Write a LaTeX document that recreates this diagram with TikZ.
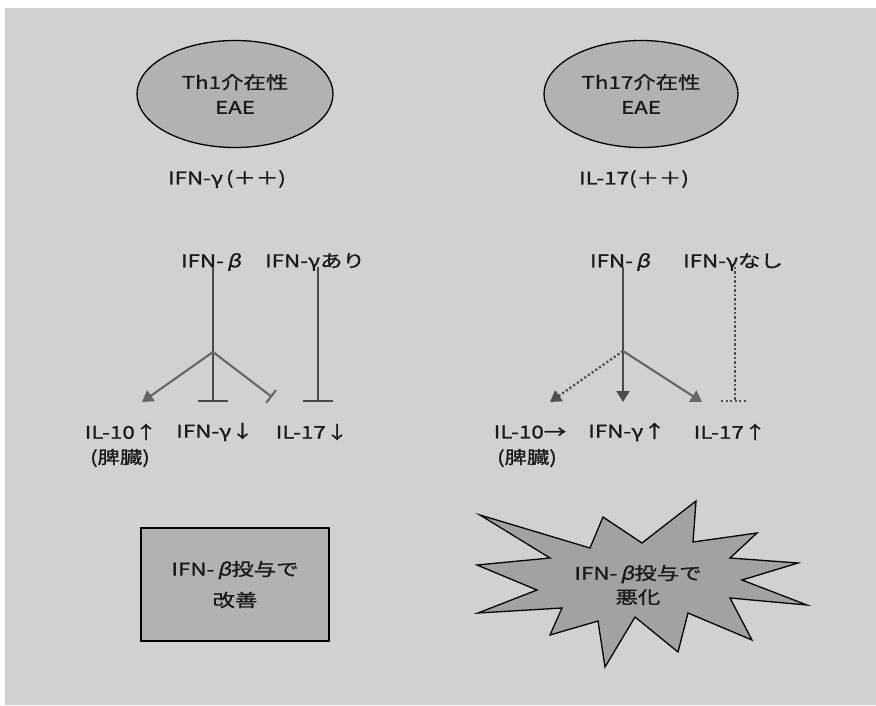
\documentclass[tikz,border=0pt]{standalone}
\usepackage{fontspec}
\setmainfont{Noto Sans CJK JP}[FakeStretch=1.28, FakeBold=1.2]
\newfontfamily\grk{Noto Sans CJK JP}[FakeStretch=1.28, FakeBold=1.2, FakeSlant=0.22]
\newcommand{\bet}{{\grk β}}
\usetikzlibrary{arrows.meta,shapes.geometric}

\definecolor{paper}{HTML}{D1D1D1}
\definecolor{shade}{HTML}{B2B2B2}
\definecolor{starfill}{HTML}{A2A2A2}
\definecolor{ink}{HTML}{1A1A1A}
\definecolor{darkline}{HTML}{4A4A4A}
\definecolor{midline}{HTML}{666666}
\definecolor{dotcol}{HTML}{505050}

\begin{document}
\begin{tikzpicture}[x=1pt,y=-1pt,
  lbl/.style={text=ink, font=\fontsize{17.5}{20}\selectfont, inner sep=2pt},
  shapeline/.style={draw=black, line width=1.3pt},
  act/.style={line width=2.1pt, -{Triangle[length=11pt,width=13pt]}},
  inhib/.style={line width=2.1pt, -{Bar[width=30pt]}},
  inhibshort/.style={line width=2.1pt, -{Bar[width=16pt]}},
  dotline/.style={line width=2.3pt, dash pattern=on 2.2pt off 2.3pt}]

% page and grey ground
\fill[white] (0,0) rectangle (876,705);
\fill[paper] (5,8) rectangle (876,705);
\useasboundingbox (0,0) rectangle (876,705);

% ---------- left panel: Th1 ----------
\node[shapeline, ellipse, fill=shade, minimum width=196pt, minimum height=107pt,
      inner sep=0pt, align=center, text=ink, font=\fontsize{17.5}{25}\selectfont]
  (th1) at (235,94) {Th1介在性\\EAE};
\node[lbl] (ifngpp) at (227,179) {IFN-γ\,(＋＋)};

\node[lbl] (bL) at (211,262) {IFN-\,\bet};
\node[lbl] (gL) at (315,262) {IFN-γあり};

\coordinate (jL)   at (213,352);
\coordinate (tL)   at (213,402);
\coordinate (aL10) at (142,402);
\coordinate (iL17) at (272,397);
\coordinate (tL17) at (318,402);

\draw[inhib, darkline] ([yshift=6pt]bL.south -| tL) -- (tL);
\draw[act, midline] (jL) -- (aL10);
\draw[inhibshort, midline] (jL) -- (iL17);
\draw[inhib, darkline] ([yshift=6pt]gL.south -| tL17) -- (tL17);

\node[lbl] (l10L)  at (121,432) {IL-10↑};
\node[lbl] (splL)  at (120,458) {(脾臓)};
\node[lbl] (lgL)   at (215,432) {IFN-γ↓};
\node[lbl] (l17L)  at (312,432) {IL-17↓};

\node[shapeline, fill=shade, minimum width=188pt, minimum height=113pt,
      align=center, text=ink, font=\fontsize{17.5}{31}\selectfont]
  (good) at (235,584.5) {IFN-\,\bet 投与で\\改善};

% ---------- right panel: Th17 ----------
\node[shapeline, ellipse, fill=shade, minimum width=194pt, minimum height=107pt,
      inner sep=0pt, align=center, text=ink, font=\fontsize{17.5}{25}\selectfont]
  (th17) at (641,94) {Th17介在性\\EAE};
\node[lbl] (il17pp) at (634,179) {IL-17(＋＋)};

\node[lbl] (bR) at (620,262) {IFN-\,\bet};
\node[lbl] (gR) at (733,262) {IFN-γなし};

\coordinate (jR)   at (623,351);
\coordinate (aRg)  at (623,402);
\coordinate (aR10) at (550,402);
\coordinate (aR17) at (702,402);
\coordinate (dR)   at (735,401);
\coordinate (dRa)  at (721,401);
\coordinate (dRb)  at (746,401);

\draw[act, darkline] ([yshift=6pt]bR.south -| aRg) -- (aRg);
\draw[act, dotcol, dotline] (jR) -- (aR10);
\draw[act, midline] (jR) -- (aR17);
\draw[dotline, dotcol] ([yshift=6pt]gR.south -| dR) -- (dR);
\draw[dotline, dotcol] (dRa) -- (dRb);

\node[lbl] (l10R)  at (530,432) {IL-10→};
\node[lbl] (splR)  at (527,458) {(脾臓)};
\node[lbl] (lgR)   at (627,432) {IFN-γ↑};
\node[lbl] (l17R)  at (730,432) {IL-17↑};

% burst shape
\filldraw[shapeline, fill=starfill, line join=miter]
  (480,515) -- (590,548) -- (603,517) -- (642,543) -- (696,501) -- (693,542)
  -- (757,533) -- (730,558) -- (798,563) -- (742,580) -- (807,605) -- (730,598)
  -- (752,640) -- (688,613) -- (678,652) -- (635,617) -- (605,667) -- (598,621)
  -- (550,635) -- (562,608) -- (478,613) -- (537,590) -- (477,565) -- (550,558)
  -- cycle;
\node[align=center, text=ink, font=\fontsize{17.5}{24}\selectfont]
  (bad) at (638,585) {IFN-\,\bet 投与で\\悪化};
\end{tikzpicture}
\end{document}
